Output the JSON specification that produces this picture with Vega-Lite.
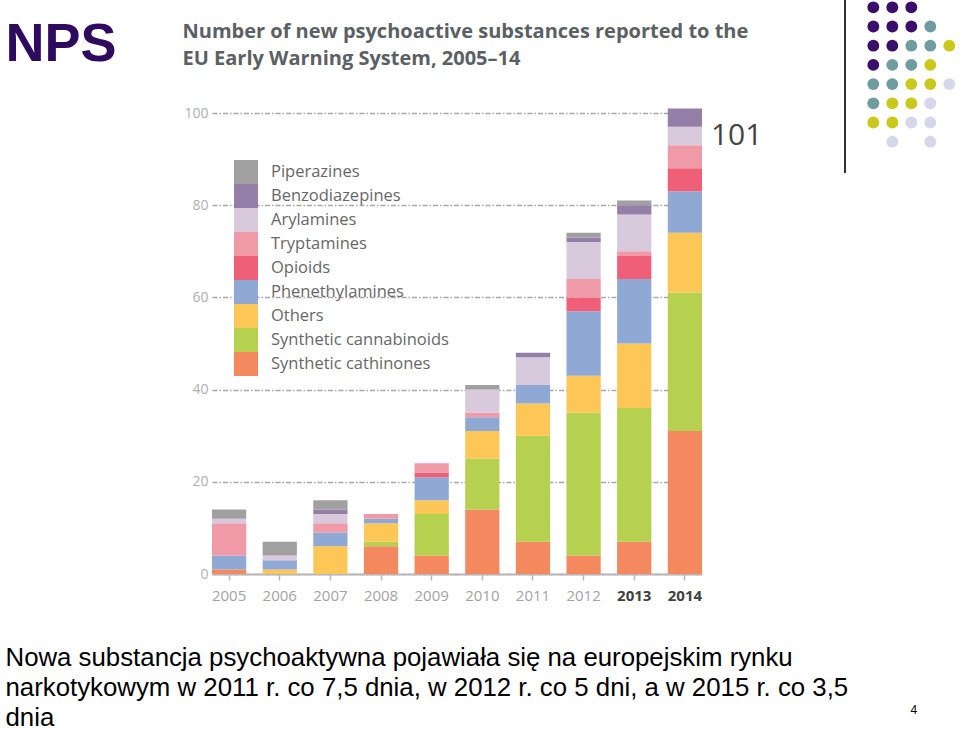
{
  "$schema": "https://vega.github.io/schema/vega-lite/v6.json",
  "width": 490,
  "height": 461,
  "autosize": {"type": "none"},
  "padding": {"left": 212, "top": 113, "right": 258, "bottom": 156},
  "background": "white",
  "config": {"view": {"stroke": null}, "font": "Open Sans"},
  "datasets": {
    "nps": [
      {"year": 2005, "type": "Synthetic cathinones", "count": 1},
      {"year": 2005, "type": "Phenethylamines", "count": 3},
      {"year": 2005, "type": "Tryptamines", "count": 7},
      {"year": 2005, "type": "Arylamines", "count": 1},
      {"year": 2005, "type": "Piperazines", "count": 2},
      {"year": 2006, "type": "Others", "count": 1},
      {"year": 2006, "type": "Phenethylamines", "count": 2},
      {"year": 2006, "type": "Arylamines", "count": 1},
      {"year": 2006, "type": "Piperazines", "count": 3},
      {"year": 2007, "type": "Others", "count": 6},
      {"year": 2007, "type": "Phenethylamines", "count": 3},
      {"year": 2007, "type": "Tryptamines", "count": 2},
      {"year": 2007, "type": "Arylamines", "count": 2},
      {"year": 2007, "type": "Benzodiazepines", "count": 1},
      {"year": 2007, "type": "Piperazines", "count": 2},
      {"year": 2008, "type": "Synthetic cathinones", "count": 6},
      {"year": 2008, "type": "Synthetic cannabinoids", "count": 1},
      {"year": 2008, "type": "Others", "count": 4},
      {"year": 2008, "type": "Phenethylamines", "count": 1},
      {"year": 2008, "type": "Tryptamines", "count": 1},
      {"year": 2009, "type": "Synthetic cathinones", "count": 4},
      {"year": 2009, "type": "Synthetic cannabinoids", "count": 9},
      {"year": 2009, "type": "Others", "count": 3},
      {"year": 2009, "type": "Phenethylamines", "count": 5},
      {"year": 2009, "type": "Opioids", "count": 1},
      {"year": 2009, "type": "Tryptamines", "count": 2},
      {"year": 2010, "type": "Synthetic cathinones", "count": 14},
      {"year": 2010, "type": "Synthetic cannabinoids", "count": 11},
      {"year": 2010, "type": "Others", "count": 6},
      {"year": 2010, "type": "Phenethylamines", "count": 3},
      {"year": 2010, "type": "Tryptamines", "count": 1},
      {"year": 2010, "type": "Arylamines", "count": 5},
      {"year": 2010, "type": "Piperazines", "count": 1},
      {"year": 2011, "type": "Synthetic cathinones", "count": 7},
      {"year": 2011, "type": "Synthetic cannabinoids", "count": 23},
      {"year": 2011, "type": "Others", "count": 7},
      {"year": 2011, "type": "Phenethylamines", "count": 4},
      {"year": 2011, "type": "Arylamines", "count": 6},
      {"year": 2011, "type": "Benzodiazepines", "count": 1},
      {"year": 2012, "type": "Synthetic cathinones", "count": 4},
      {"year": 2012, "type": "Synthetic cannabinoids", "count": 31},
      {"year": 2012, "type": "Others", "count": 8},
      {"year": 2012, "type": "Phenethylamines", "count": 14},
      {"year": 2012, "type": "Opioids", "count": 3},
      {"year": 2012, "type": "Tryptamines", "count": 4},
      {"year": 2012, "type": "Arylamines", "count": 8},
      {"year": 2012, "type": "Benzodiazepines", "count": 1},
      {"year": 2012, "type": "Piperazines", "count": 1},
      {"year": 2013, "type": "Synthetic cathinones", "count": 7},
      {"year": 2013, "type": "Synthetic cannabinoids", "count": 29},
      {"year": 2013, "type": "Others", "count": 14},
      {"year": 2013, "type": "Phenethylamines", "count": 14},
      {"year": 2013, "type": "Opioids", "count": 5},
      {"year": 2013, "type": "Tryptamines", "count": 1},
      {"year": 2013, "type": "Arylamines", "count": 8},
      {"year": 2013, "type": "Benzodiazepines", "count": 2},
      {"year": 2013, "type": "Piperazines", "count": 1},
      {"year": 2014, "type": "Synthetic cathinones", "count": 31},
      {"year": 2014, "type": "Synthetic cannabinoids", "count": 30},
      {"year": 2014, "type": "Others", "count": 13},
      {"year": 2014, "type": "Phenethylamines", "count": 9},
      {"year": 2014, "type": "Opioids", "count": 5},
      {"year": 2014, "type": "Tryptamines", "count": 5},
      {"year": 2014, "type": "Arylamines", "count": 4},
      {"year": 2014, "type": "Benzodiazepines", "count": 4}
    ],
    "types": [
      {"type": "Synthetic cathinones", "rank": 1},
      {"type": "Synthetic cannabinoids", "rank": 2},
      {"type": "Others", "rank": 3},
      {"type": "Phenethylamines", "rank": 4},
      {"type": "Opioids", "rank": 5},
      {"type": "Tryptamines", "rank": 6},
      {"type": "Arylamines", "rank": 7},
      {"type": "Benzodiazepines", "rank": 8},
      {"type": "Piperazines", "rank": 9}
    ],
    "dots": [
      {"col": 0, "row": 0, "group": "g1"}, {"col": 1, "row": 0, "group": "g1"}, {"col": 2, "row": 0, "group": "g1"},
      {"col": 0, "row": 1, "group": "g1"}, {"col": 1, "row": 1, "group": "g1"}, {"col": 2, "row": 1, "group": "g1"}, {"col": 3, "row": 1, "group": "g2"},
      {"col": 0, "row": 2, "group": "g1"}, {"col": 1, "row": 2, "group": "g1"}, {"col": 2, "row": 2, "group": "g2"}, {"col": 3, "row": 2, "group": "g2"}, {"col": 4, "row": 2, "group": "g3"},
      {"col": 0, "row": 3, "group": "g1"}, {"col": 1, "row": 3, "group": "g2"}, {"col": 2, "row": 3, "group": "g2"}, {"col": 3, "row": 3, "group": "g3"},
      {"col": 0, "row": 4, "group": "g2"}, {"col": 1, "row": 4, "group": "g2"}, {"col": 2, "row": 4, "group": "g3"}, {"col": 3, "row": 4, "group": "g3"}, {"col": 4, "row": 4, "group": "g4"},
      {"col": 0, "row": 5, "group": "g2"}, {"col": 1, "row": 5, "group": "g3"}, {"col": 2, "row": 5, "group": "g3"}, {"col": 3, "row": 5, "group": "g4"},
      {"col": 0, "row": 6, "group": "g3"}, {"col": 1, "row": 6, "group": "g3"}, {"col": 2, "row": 6, "group": "g4"}, {"col": 3, "row": 6, "group": "g4"},
      {"col": 1, "row": 7, "group": "g4"}, {"col": 3, "row": 7, "group": "g4"}
    ]
  },
  "layer": [
    {
      "data": {"name": "nps"},
      "layer": [
        {
          "transform": [
            {"lookup": "type", "from": {"data": {"name": "types"}, "key": "type", "fields": ["rank"]}}
          ],
          "mark": {"type": "bar", "strokeWidth": 0},
          "encoding": {
            "x": {
              "field": "year",
              "type": "ordinal",
              "scale": {"paddingInner": 0.324, "paddingOuter": 0},
              "axis": {
                "title": [
                  "Nowa substancja psychoaktywna pojawiała się na europejskim rynku",
                  "narkotykowym w 2011 r. co 7,5 dnia, w 2012 r. co 5 dni, a w 2015 r. co 3,5",
                  "dnia"
                ],
                "titleX": -207,
                "titleY": 91,
                "titleAngle": 0,
                "titleAlign": "left",
                "titleBaseline": "alphabetic",
                "titleFont": "Liberation Sans",
                "titleFontSize": 25.8,
                "titleFontWeight": "normal",
                "titleColor": "#000000",
                "titleLineHeight": 30,
                "titleLimit": 2000,
                "labelAngle": 0,
                "labelFont": "Open Sans",
                "labelFontSize": 15,
                "labelPadding": 8,
                "labelColor": {"condition": {"test": "datum.value >= 2013", "value": "#404040"}, "value": "#a3a3a3"},
                "labelFontWeight": {"condition": {"test": "datum.value >= 2013", "value": "bold"}, "value": "normal"},
                "domainColor": "#b8b8b8",
                "domainWidth": 2,
                "tickColor": "#b8b8b8",
                "tickWidth": 1.5,
                "tickSize": 6,
                "grid": false
              }
            },
            "y": {
              "aggregate": "sum",
              "field": "count",
              "type": "quantitative",
              "stack": "zero",
              "scale": {"domain": [0, 100], "nice": false},
              "axis": {
                "title": "NPS",
                "titleX": -207,
                "titleY": -53,
                "titleAngle": 0,
                "titleAlign": "left",
                "titleBaseline": "alphabetic",
                "titleFont": "Liberation Sans",
                "titleFontSize": 54,
                "titleFontWeight": "bold",
                "titleColor": "#2e0b5f",
                "titleLimit": 1000,
                "values": [0, 20, 40, 60, 80, 100],
                "domain": false,
                "ticks": false,
                "labelFont": "Open Sans",
                "labelFontSize": 14,
                "labelColor": "#b0b0b0",
                "labelPadding": 4,
                "grid": true,
                "gridColor": "#a8a8a8",
                "gridWidth": 1.5,
                "gridDash": [5, 2, 1.5, 2]
              }
            },
            "color": {
              "field": "type",
              "type": "nominal",
              "scale": {
                "domain": ["Piperazines", "Benzodiazepines", "Arylamines", "Tryptamines", "Opioids", "Phenethylamines", "Others", "Synthetic cannabinoids", "Synthetic cathinones"],
                "range": ["#a0a0a0", "#937fa7", "#d8c9dc", "#f09aa8", "#ef5f78", "#8fa8d4", "#fdc758", "#b6d04f", "#f4895f"]
              },
              "legend": {
                "orient": "none",
                "legendX": 22,
                "legendY": 47,
                "title": null,
                "padding": 0,
                "symbolType": "square",
                "symbolSize": 576,
                "symbolStrokeWidth": 0,
                "symbolOpacity": 1,
                "rowPadding": 0,
                "labelOffset": 13,
                "labelFont": "Open Sans",
                "labelFontSize": 16.5,
                "labelColor": "#676767",
                "labelLimit": 400
              }
            },
            "order": {"field": "rank", "type": "quantitative", "sort": "ascending"}
          }
        },
        {
          "transform": [
            {"filter": "datum.year == 2014"},
            {"aggregate": [{"op": "sum", "field": "count", "as": "total"}], "groupby": ["year"]}
          ],
          "mark": {"type": "text", "align": "left", "baseline": "alphabetic", "dx": 26, "dy": 37, "font": "Open Sans", "fontSize": 30, "color": "#444444"},
          "encoding": {
            "x": {"field": "year", "type": "ordinal"},
            "y": {"field": "total", "type": "quantitative"},
            "text": {"field": "total", "type": "quantitative"}
          }
        }
      ]
    },
    {
      "data": {"name": "dots"},
      "layer": [
        {
          "mark": {"type": "point", "filled": true, "size": 140, "opacity": 1, "shape": "circle"},
          "encoding": {
            "x": {
              "field": "col",
              "type": "quantitative",
              "scale": {"domain": [-34.805, -9.016], "nice": false, "zero": false},
              "axis": {
                "orient": "top",
                "title": ["Number of new psychoactive substances reported to the", "EU Early Warning System, 2005–14"],
                "titleX": -30,
                "titleY": -76,
                "titleAngle": 0,
                "titleAlign": "left",
                "titleBaseline": "alphabetic",
                "titleFont": "Open Sans",
                "titleFontSize": 20,
                "titleFontWeight": "bold",
                "titleColor": "#5b6064",
                "titleLineHeight": 27,
                "titleLimit": 1000,
                "labels": false,
                "ticks": false,
                "domain": false,
                "grid": false
              }
            },
            "y": {
              "field": "row",
              "type": "quantitative",
              "scale": {"domain": [5.505, 29.516], "nice": false, "zero": false, "reverse": true},
              "axis": {
                "orient": "right",
                "title": "4",
                "titleX": 208,
                "titleY": 600,
                "titleAngle": 0,
                "titleAlign": "left",
                "titleBaseline": "alphabetic",
                "titleFont": "Liberation Sans",
                "titleFontSize": 12,
                "titleFontWeight": "normal",
                "titleColor": "#000000",
                "labels": false,
                "ticks": false,
                "domain": false,
                "grid": false
              }
            },
            "color": {
              "field": "group",
              "type": "nominal",
              "scale": {"domain": ["g1", "g2", "g3", "g4"], "range": ["#3a0f6b", "#6e9c9f", "#c9c91c", "#d6d7ea"]},
              "legend": null
            }
          }
        },
        {
          "mark": {"type": "rule", "color": "#333333", "strokeWidth": 1.5},
          "encoding": {
            "x": {"datum": -1.5, "type": "quantitative"},
            "y": {"datum": -0.38, "type": "quantitative"},
            "y2": {"datum": 8.63}
          }
        }
      ]
    }
  ],
  "resolve": {"scale": {"x": "independent", "y": "independent", "color": "independent"}}
}
